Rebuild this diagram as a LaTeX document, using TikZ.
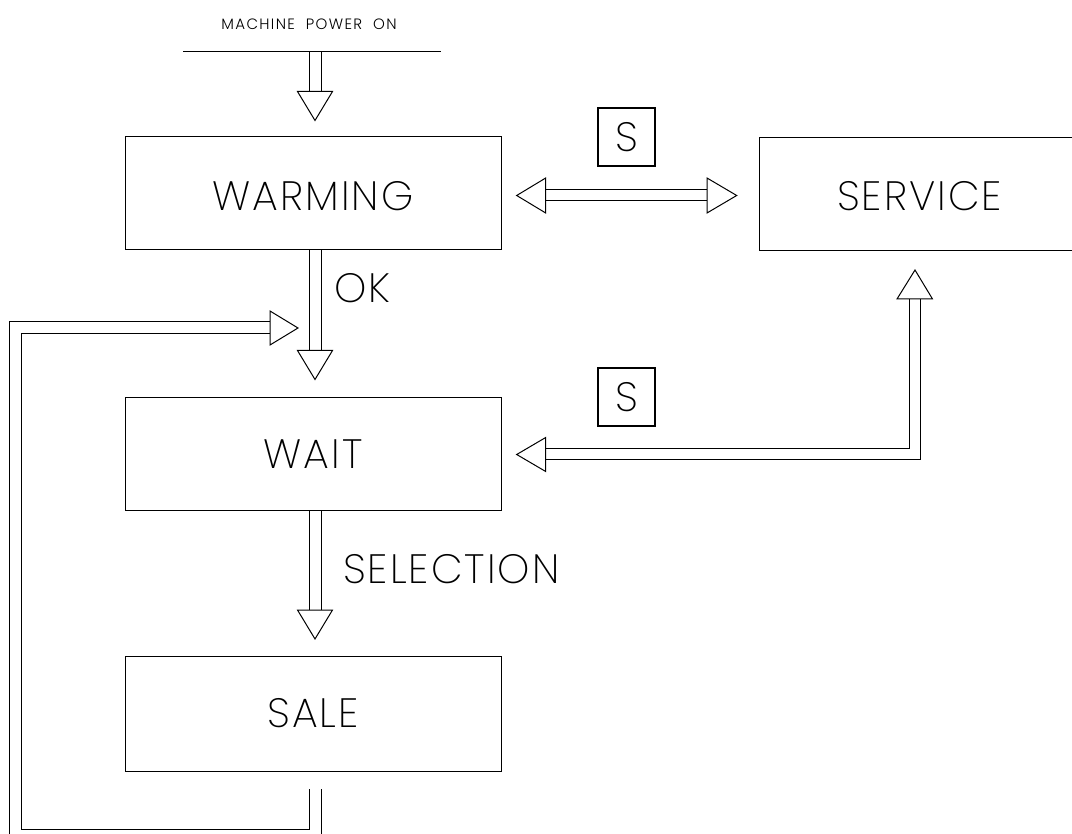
\documentclass[tikz,border=0pt]{standalone}
\usepackage{fontspec}
\newfontfamily\lbl{Poppins ExtraLight}[LetterSpace=5]
\newfontfamily\lblsmall{Poppins Light}[LetterSpace=9]
\usetikzlibrary{calc}
\tikzset{
  state/.style={draw, line width=1pt, minimum width=376pt, minimum height=113pt, inner sep=0pt,
    font=\lbl\fontsize{41}{41}\selectfont},
  skey/.style={draw, line width=2.7pt, minimum width=57pt, minimum height=58pt, inner sep=0pt,
    font=\lbl\fontsize{41}{41}\selectfont},
  lab/.style={inner sep=0pt, font=\lbl\fontsize{41}{41}\selectfont},
  smalllab/.style={inner sep=0pt, font=\lblsmall\fontsize{15}{15}\selectfont},
  wire/.style={line width=1pt, line join=miter},
}
\begin{document}
\begin{tikzpicture}[x=1pt,y=-1pt]
\useasboundingbox (0,0) rectangle (1072,834);
\clip (0,0) rectangle (1072,834);
% states
\node[state] (warm) at (313,193.5) {\raisebox{-2.5pt}[\height][0pt]{WARMING}};
\node[state, minimum width=321pt] (serv) at (919.5,194) {\raisebox{-2pt}[\height][0pt]{SERVICE}};
\node[state, minimum height=112pt] (wait) at (313,454) {WAIT};
\node[state, minimum height=115pt] (sale) at (313,713.5) {SALE};
\node[skey] (s1) at (626.5,137) {S};
\node[skey] (s2) at (626.5,397) {S};
% labels
\node[smalllab] (pwrlab) at (309,24.5) {MACHINE\ \ POWER\ \ ON};
\node[lab, anchor=west] (oklab) at (334,288.5) {OK};
\node[lab, anchor=west] (sellab) at (343,569.5) {SELECTION};
% power line and first arrow
\coordinate (pwrL) at (183,52);
\coordinate (pwrR) at (441,52);
\draw[wire] (pwrL) -- (pwrR);
\draw[wire] (309,52) -- (309,91.5) (321,52) -- (321,91.5);
\draw[wire] (297.5,91.5) -- (332.5,91.5) -- (315,120.5) -- cycle;
% OK arrow
\draw[wire] (309,250) -- (309,350.5) (321,250) -- (321,350.5);
\draw[wire] (297.5,350.5) -- (332.5,350.5) -- (315,379.5) -- cycle;
% SELECTION arrow
\draw[wire] (309,510) -- (309,610) (321,510) -- (321,610);
\draw[wire] (297.5,610) -- (332.5,610) -- (315,639) -- cycle;
% warming <-> service
\draw[wire] (545.7,190) -- (707,190) (545.7,201) -- (707,201);
\draw[wire] (545.7,178) -- (545.7,213) -- (516.7,195.5) -- cycle;
\draw[wire] (707,178) -- (707,213) -- (736.7,195.5) -- cycle;
% service -> wait
\draw[wire] (545.7,449) -- (909,449) -- (909,299);
\draw[wire] (545.7,460) -- (920.7,460) -- (920.7,299);
\draw[wire] (545.7,437.5) -- (545.7,471.5) -- (516.7,454.5) -- cycle;
\draw[wire] (897,299) -- (932.5,299) -- (915,270) -- cycle;
% loop sale -> wait
\draw[wire] (309.7,789) -- (309.7,829) -- (21,829) -- (21,334) -- (270,334);
\draw[wire] (321,789) -- (321,842) -- (9.3,842) -- (9.3,322) -- (270,322);
\draw[wire] (270,311) -- (270,345) -- (298,328) -- cycle;
\end{tikzpicture}
\end{document}
